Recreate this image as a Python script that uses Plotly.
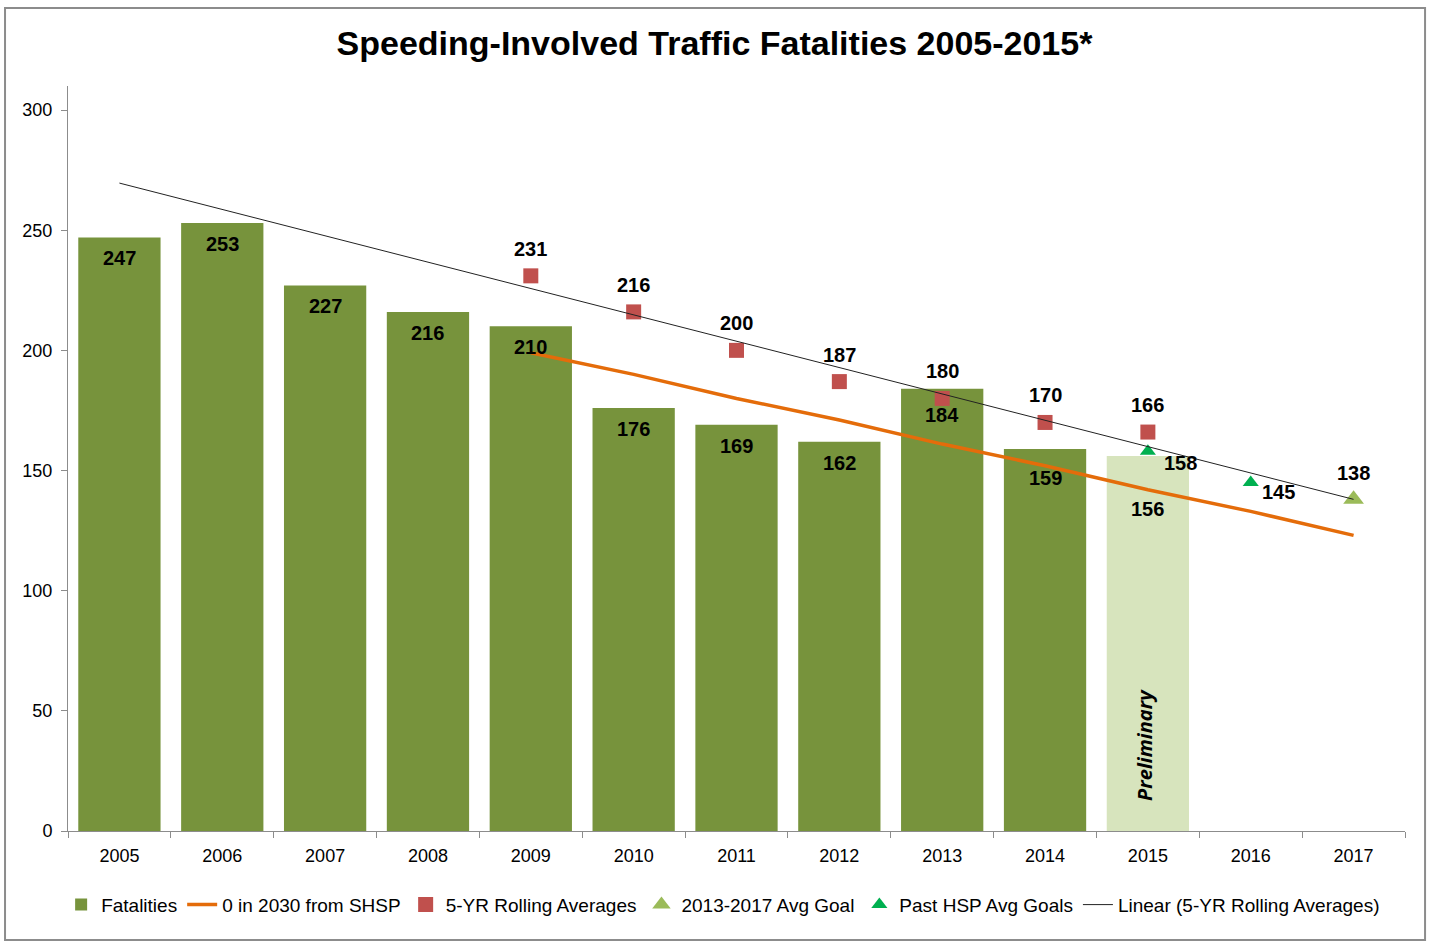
import plotly.graph_objects as go

years = [2005, 2006, 2007, 2008, 2009, 2010, 2011, 2012, 2013, 2014, 2015, 2016, 2017]
year_labels = ["2005", "2006", "2007", "2008", "2009", "2010", "2011",
               "2012", "2013", "2014", "2015", "2016", "2017"]

fatality_years = [2005, 2006, 2007, 2008, 2009, 2010, 2011, 2012, 2013, 2014, 2015]
fatalities = [247, 253, 227, 216, 210, 176, 169, 162, 184, 159, 156]

shsp_years = [2009, 2010, 2011, 2012, 2013, 2014, 2015, 2016, 2017]
shsp_values = [199, 190, 180, 171, 161, 152, 142, 133, 123]

rolling_years = [2009, 2010, 2011, 2012, 2013, 2014, 2015]
rolling_avgs = [231, 216, 200, 187, 180, 170, 166]

goal_years = [2017]
goal_values = [138]

past_goal_years = [2015, 2016]
past_goal_values = [158, 145]

trend_years = [2005, 2017]
trend_values = [269.6, 138.0]

y_ticks = [0, 50, 100, 150, 200, 250, 300]

BAR = "#77933C"
BAR_PRELIM = "#D7E4BD"
FONT = "Liberation Sans, Arial, sans-serif"
AXIS = "#8c8c8c"

bar_colors = [BAR] * (len(fatalities) - 1) + [BAR_PRELIM]

fig = go.Figure()
fig.add_trace(go.Bar(
    x=fatality_years, y=fatalities, name="Fatalities",
    marker=dict(color=bar_colors, line=dict(width=0)),
    width=0.8))
fig.add_trace(go.Scatter(
    x=shsp_years, y=shsp_values, name="0 in 2030 from SHSP", mode="lines",
    line=dict(color="#E46C0A", width=3.5)))
fig.add_trace(go.Scatter(
    x=rolling_years, y=rolling_avgs, name="5-YR Rolling Averages", mode="markers",
    marker=dict(symbol="square", color="#C0504D", size=15)))
fig.add_trace(go.Scatter(
    x=goal_years, y=goal_values, name="2013-2017 Avg Goal", mode="markers",
    marker=dict(symbol="triangle-up", color="#9BBB59", size=18)))
fig.add_trace(go.Scatter(
    x=past_goal_years, y=past_goal_values, name="Past HSP Avg Goals", mode="markers",
    marker=dict(symbol="triangle-up", color="#00B050", size=14)))
fig.add_trace(go.Scatter(
    x=trend_years, y=trend_values, name="Linear (5-YR Rolling Averages)", mode="lines",
    line=dict(color="#222222", width=1)))

label_font = dict(family=FONT, size=20, color="black", weight="bold")
annotations = []
bar_label_shift = {2013: -26, 2014: -29, 2015: -53}
for yr, v in zip(fatality_years, fatalities):
    annotations.append(dict(
        x=yr, y=v, xref="x", yref="y", text=str(v), showarrow=False,
        yshift=bar_label_shift.get(yr, -21), font=label_font))
for yr, v in zip(rolling_years, rolling_avgs):
    annotations.append(dict(
        x=yr, y=v, xref="x", yref="y", text=str(v), showarrow=False,
        yshift=27, font=label_font))
past_shift = [(33, -12), (28, -9)]
for (yr, v), (dx, dy) in zip(zip(past_goal_years, past_goal_values), past_shift):
    annotations.append(dict(
        x=yr, y=v, xref="x", yref="y", text=str(v), showarrow=False,
        xshift=dx, yshift=dy, font=label_font))
for yr, v in zip(goal_years, goal_values):
    annotations.append(dict(
        x=yr, y=v, xref="x", yref="y", text=str(v), showarrow=False,
        yshift=26, font=label_font))
annotations.append(dict(
    x=2015, y=0, xref="x", yref="y", text="<i>Preliminary</i>", showarrow=False,
    textangle=-90, yshift=86, xshift=-4,
    font=dict(family="Open Sans, sans-serif", size=20, color="black", weight=700)))

fig.update_layout(
    width=1429, height=943,
    margin=dict(l=68, r=24, t=86, b=112),
    paper_bgcolor="white", plot_bgcolor="white",
    font=dict(family=FONT, size=18, color="black"),
    title=dict(text="<b>Speeding-Involved Traffic Fatalities 2005-2015*</b>",
               x=0.5, xanchor="center", y=1 - 43 / 943, yanchor="middle",
               yref="container",
               font=dict(family=FONT, size=34, color="black")),
    showlegend=True,
    legend=dict(orientation="h", x=0.49, xanchor="center", y=-0.099, yanchor="middle",
                font=dict(family=FONT, size=19, color="black"),
                itemwidth=30, traceorder="normal"),
    annotations=annotations,
    shapes=[dict(type="rect", xref="paper", yref="paper",
                 x0=-0.0471, x1=1.015, y0=-0.1463, y1=1.1047,
                 line=dict(color=AXIS, width=2), fillcolor="rgba(0,0,0,0)",
                 layer="below")],
)
fig.update_xaxes(
    range=[years[0] - 0.5, years[-1] + 0.5],
    tickvals=years, ticktext=year_labels, ticks="", ticklabelstandoff=8,
    minor=dict(tickvals=[y - 0.5 for y in years] + [years[-1] + 0.5],
               ticks="outside", ticklen=6, tickcolor=AXIS, showgrid=False),
    showline=True, linecolor=AXIS, linewidth=1,
    showgrid=False, zeroline=False, tickfont=dict(size=18))
fig.update_yaxes(
    range=[0, 310], tickvals=y_ticks, ticktext=[str(t) for t in y_ticks],
    showline=True, linecolor=AXIS, linewidth=1,
    ticks="outside", ticklen=6, tickcolor=AXIS, ticklabelstandoff=5,
    showgrid=False, zeroline=False, tickfont=dict(size=18))

fig.write_html("out.html", config={"displayModeBar": False},
               post_script="document.body.style.margin='0';document.body.style.overflow='hidden';")
